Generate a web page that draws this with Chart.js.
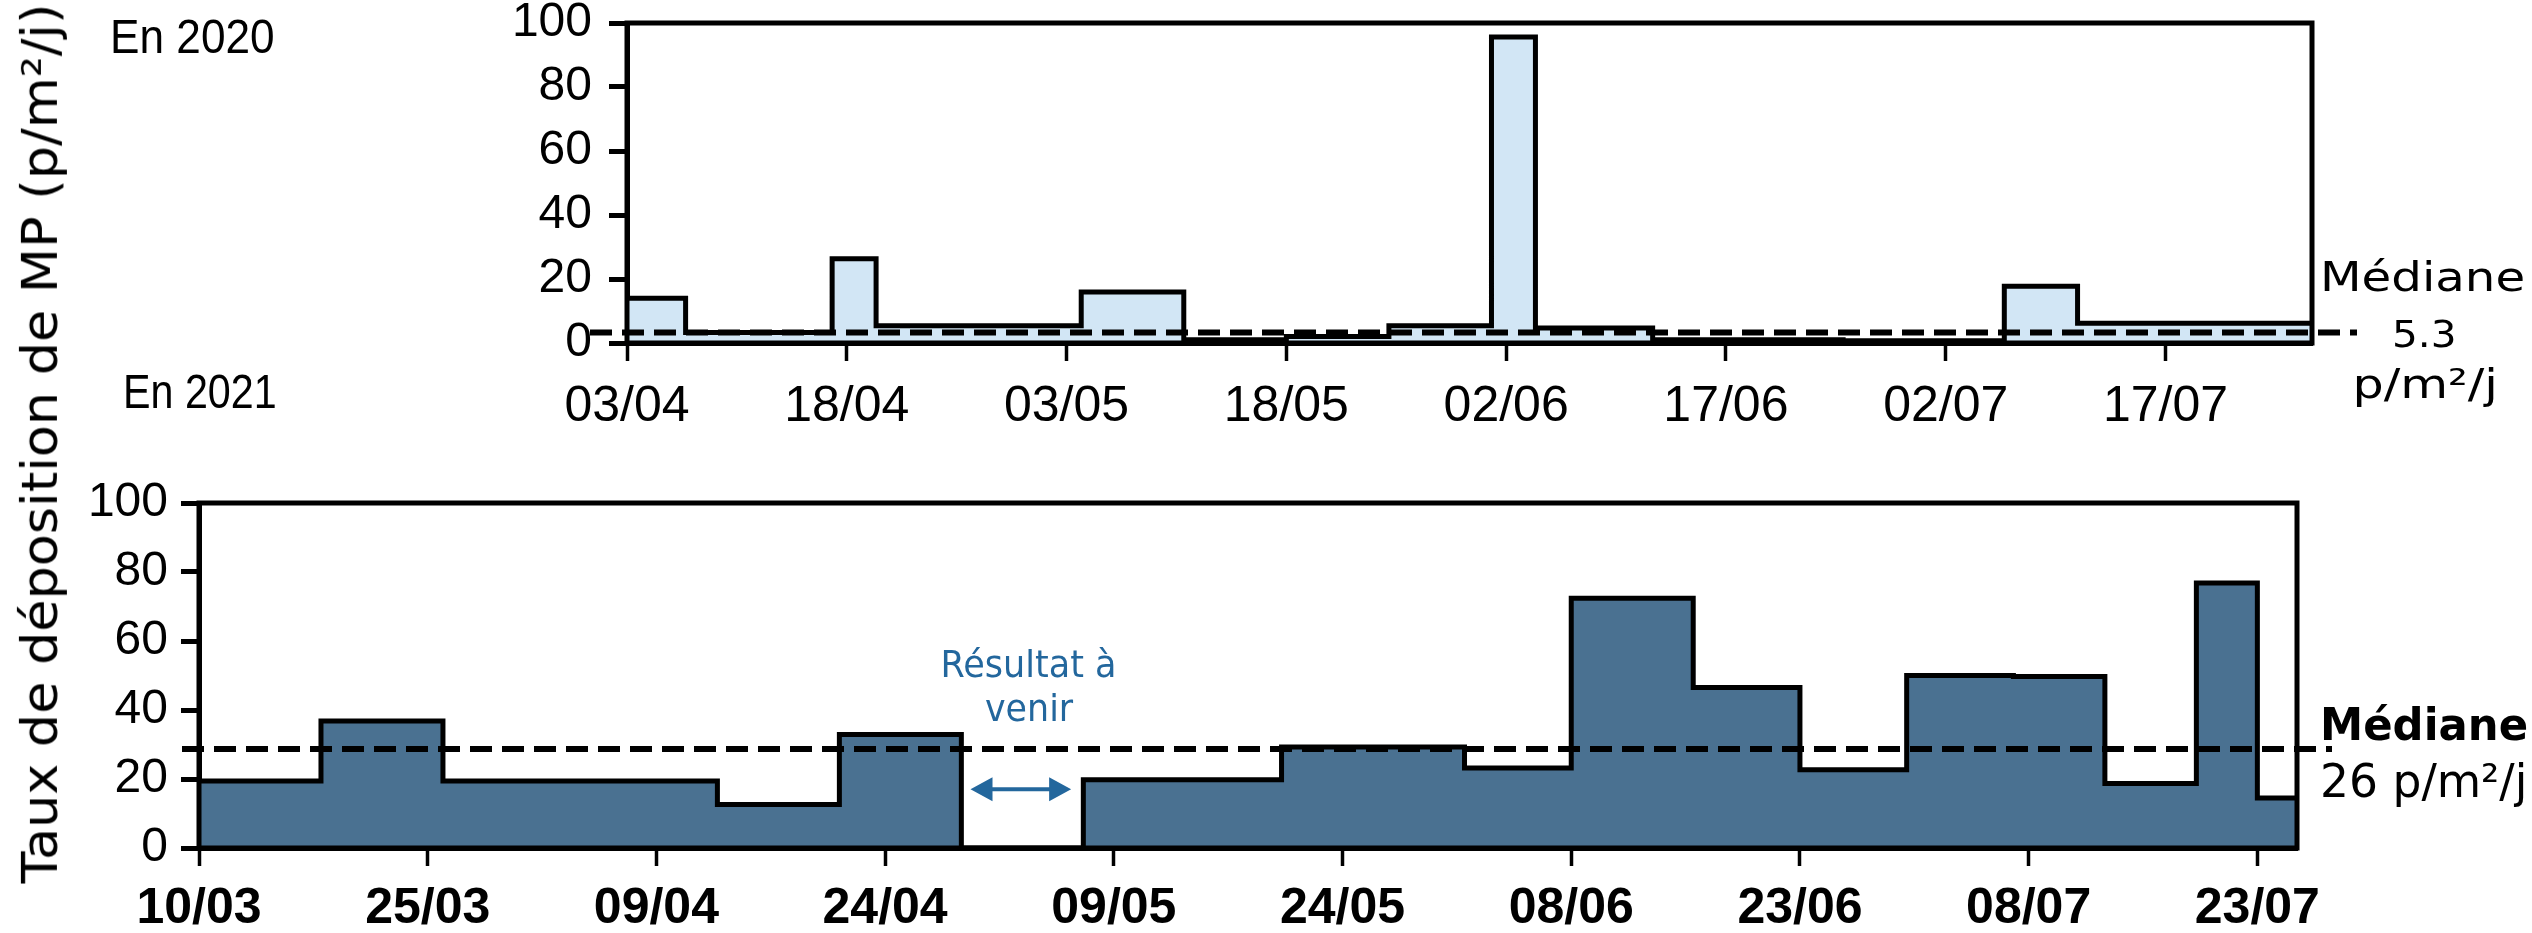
<!DOCTYPE html>
<html>
<head>
<meta charset="utf-8">
<script src="https://cdn.jsdelivr.net/npm/chart.js"></script>
<style>
    html, body { margin: 0; padding: 0; background: #fff; }
    #wrap { position: relative; width: 2532px; height: 933px; overflow: hidden; }
    canvas { position: absolute; left: 0; }
    #c2020 { top: 0; }
    #c2021 { top: 466px; }
    .lbl { position: absolute; white-space: nowrap; line-height: 1; font-family: 'DejaVu Sans', sans-serif; color: #000; }
</style>
</head>
<body>
<div id="wrap">
    <canvas id="c2020" width="2532" height="466"></canvas>
    <canvas id="c2021" width="2532" height="467"></canvas>
</div>
<script>
// 2020 - jours comptés depuis le 03/04
const ticks2020 = ['03/04', '18/04', '03/05', '18/05', '02/06', '17/06', '02/07', '17/07'];
const tickDays2020 = [0, 15, 30, 45, 60, 75, 90, 105];
const edges2020 = [0, 4, 14, 17, 31, 38, 45, 52, 59, 62, 70, 83, 94, 99, 115];
const values2020 = [14, 3.3, 26.3, 5.4, 15.9, 1.0, 2.0, 5.4, 95.6, 4.7, 1.0, 0.7, 17.7, 6.2];
const median2020 = 3.3; // hauteur de la ligne pointillée telle que dessinée

// 2021 - jours comptés depuis le 10/03
const ticks2021 = ['10/03', '25/03', '09/04', '24/04', '09/05', '24/05', '08/06', '23/06', '08/07', '23/07'];
const tickDays2021 = [0, 15, 30, 45, 60, 75, 90, 105, 120, 135];
const edges2021 = [0, 8, 16, 34, 42, 50, 58, 71, 83, 90, 98, 105, 112, 119, 125, 131, 135, 137.6];
const values2021 = [19.4, 36.8, 19.4, 12.6, 32.9, null, 19.8, 29.3, 23.2, 72.4, 46.5, 22.7, 50.0, 49.7, 18.7, 76.8, 14.5];
const median2021 = 28.7;
const pendingPeriod = [50.6, 57.2]; // résultat à venir

const yTicks = [0, 20, 40, 60, 80, 100];

// points en escalier : chaque valeur tient jusqu'au bord suivant
function stepPoints(edges, values) {
    const pts = values.map((v, i) => ({ x: edges[i], y: v === null ? 0 : v }));
    pts.push({ x: edges[edges.length - 1], y: values[values.length - 1] });
    return pts;
}

// pas de marge automatique autour des axes
function noAxisPadding(s) {
    s.paddingTop = 0;
    s.paddingBottom = 0;
    s.paddingLeft = 0;
    s.paddingRight = 0;
}

const panelDecor = {
    id: 'panelDecor',
    afterDatasetsDraw(chart, args, opts) {
        const { ctx, chartArea: a, scales } = chart;
        ctx.save();
        ctx.strokeStyle = '#000';
        ctx.lineWidth = opts.frameWidth;
        ctx.strokeRect(a.left, a.top, a.right - a.left, a.bottom - a.top);

        // ligne médiane
        const y = scales.y.getPixelForValue(opts.median);
        ctx.setLineDash([22, 10]);
        ctx.lineWidth = 6;
        ctx.beginPath();
        ctx.moveTo(a.left - opts.extLeft, y);
        ctx.lineTo(a.right + opts.extRight, y);
        ctx.stroke();
        ctx.setLineDash([]);

        // flèche double pour la période sans résultat
        if (opts.arrow) {
            const x1 = scales.x.getPixelForValue(opts.arrow.from);
            const x2 = scales.x.getPixelForValue(opts.arrow.to);
            const ya = scales.y.getPixelForValue(opts.arrow.y);
            const hl = 22, hw = 12;
            ctx.fillStyle = ctx.strokeStyle = opts.arrow.color;
            ctx.lineWidth = 4;
            ctx.beginPath();
            ctx.moveTo(x1 + hl - 2, ya);
            ctx.lineTo(x2 - hl + 2, ya);
            ctx.stroke();
            ctx.beginPath();
            ctx.moveTo(x1, ya); ctx.lineTo(x1 + hl, ya - hw); ctx.lineTo(x1 + hl, ya + hw); ctx.closePath();
            ctx.moveTo(x2, ya); ctx.lineTo(x2 - hl, ya - hw); ctx.lineTo(x2 - hl, ya + hw); ctx.closePath();
            ctx.fill();
        }
        ctx.restore();
    }
};

function makePanel(canvasId, p) {
    const chart = new Chart(document.getElementById(canvasId), {
        type: 'line',
        data: {
            datasets: [{
                data: stepPoints(p.edges, p.values),
                stepped: true,
                fill: 'origin',
                backgroundColor: p.fill,
                borderColor: '#000',
                borderWidth: 5,
                borderJoinStyle: 'miter',
                pointRadius: 0
            }]
        },
        options: {
            responsive: false,
            animation: false,
            events: [],
            layout: { autoPadding: false, padding: { top: p.area.top, right: 0, left: 0, bottom: 0 } },
            plugins: {
                legend: { display: false },
                tooltip: { enabled: false },
                panelDecor: {
                    frameWidth: 5,
                    median: p.median,
                    extLeft: p.extLeft,
                    extRight: p.extRight,
                    arrow: p.arrow
                }
            },
            scales: {
                x: {
                    type: 'linear',
                    min: 0,
                    max: p.edges[p.edges.length - 1],
                    afterBuildTicks: s => { s.ticks = p.tickDays.map(v => ({ value: v })); },
                    afterFit: noAxisPadding,
                    ticks: {
                        autoSkip: false,
                        maxRotation: 0,
                        padding: p.xPad,
                        color: '#000',
                        font: { family: "'Liberation Sans', Arial, sans-serif", size: 50, weight: p.xWeight },
                        callback: v => p.tickLabels[p.tickDays.indexOf(v)]
                    },
                    grid: { drawOnChartArea: false, tickLength: 18, tickWidth: 3.5, tickColor: '#000' },
                    border: { display: true, color: '#000', width: 5 }
                },
                y: {
                    min: 0,
                    max: 100,
                    afterBuildTicks: s => { s.ticks = yTicks.map(v => ({ value: v })); },
                    afterFit: noAxisPadding,
                    ticks: {
                        autoSkip: false,
                        padding: p.yPad,
                        color: '#000',
                        font: { family: "'Liberation Sans', Arial, sans-serif", size: 48 }
                    },
                    grid: { drawOnChartArea: false, tickLength: 18, tickWidth: 5, tickColor: '#000' },
                    border: { display: true, color: '#000', width: 5 }
                }
            }
        },
        plugins: [panelDecor]
    });

    // recale la zone de tracé sur les bords voulus
    const pad = { top: p.area.top, left: 0, right: 0, bottom: 0 };
    for (let i = 0; i < 4; i++) {
        const a = chart.chartArea;
        pad.top += p.area.top - a.top;
        pad.left += p.area.left - a.left;
        pad.right += a.right - p.area.right;
        pad.bottom += a.bottom - p.area.bottom;
        chart.options.layout.padding = Object.assign({}, pad);
        chart.update();
    }
    return chart;
}

const chart2020 = makePanel('c2020', {
    edges: edges2020, values: values2020, median: median2020,
    tickDays: tickDays2020, tickLabels: ticks2020,
    fill: '#D2E6F5',
    area: { left: 627, right: 2312, top: 23, bottom: 343 },
    xPad: 16, yPad: 17, xWeight: 'normal',
    extLeft: 37, extRight: 45
});

const chart2021 = makePanel('c2021', {
    edges: edges2021, values: values2021, median: median2021,
    tickDays: tickDays2021, tickLabels: ticks2021,
    fill: '#4A7191',
    area: { left: 199, right: 2297, top: 37, bottom: 382 },
    xPad: 13, yPad: 13, xWeight: 'bold',
    extLeft: 17, extRight: 35,
    arrow: { from: pendingPeriod[0], to: pendingPeriod[1], y: 17, color: '#23679D' }
});

// textes en HTML, étirés à la largeur voulue
const wrap = document.getElementById('wrap');
function addLabel(text, o) {
    const el = document.createElement('div');
    el.className = 'lbl';
    el.textContent = text;
    el.style.fontSize = o.size + 'px';
    if (o.family) el.style.fontFamily = o.family;
    if (o.weight) el.style.fontWeight = o.weight;
    if (o.color) el.style.color = o.color;
    const probe = document.createElement('span');
    probe.style.cssText = 'display:inline-block;width:0;height:0;vertical-align:baseline;';
    el.appendChild(probe);
    wrap.appendChild(el);
    const w = el.offsetWidth, h = el.offsetHeight, base = probe.offsetTop;
    const k = o.width ? o.width / w : 1;
    if (o.rotate) {
        const cx = o.baselineX - (base - h / 2);
        el.style.left = (cx - w / 2) + 'px';
        el.style.top = (o.centerY - h / 2) + 'px';
        el.style.transformOrigin = 'center center';
        el.style.transform = 'rotate(-90deg) scaleX(' + k + ')';
        return;
    }
    el.style.top = (o.baseline - base) + 'px';
    if (o.align === 'center') {
        el.style.left = (o.x - w / 2) + 'px';
        el.style.transformOrigin = 'center top';
    } else {
        el.style.left = o.x + 'px';
        el.style.transformOrigin = 'left top';
    }
    el.style.transform = 'scaleX(' + k + ')';
}

const narrow = "'Liberation Sans', Arial, sans-serif";
addLabel('Taux de déposition de MP (p/m²/j)', { rotate: true, baselineX: 57, centerY: 443, size: 49, width: 880 });
addLabel('En 2020', { x: 110, baseline: 53, size: 49, width: 165, family: narrow });
addLabel('En 2021', { x: 123, baseline: 408, size: 49, width: 154, family: narrow });
addLabel('Médiane', { x: 2320, baseline: 291, size: 40, width: 205 });
addLabel('5.3', { x: 2424, align: 'center', baseline: 347, size: 38, width: 64 });
addLabel('p/m²/j', { x: 2425, align: 'center', baseline: 398, size: 40, width: 145 });
addLabel('Médiane', { x: 2320, baseline: 740, size: 44, width: 208, weight: 'bold' });
addLabel('26 p/m²/j', { x: 2320, baseline: 797, size: 46, width: 207 });
addLabel('Résultat à', { x: 1028, align: 'center', baseline: 677, size: 38, width: 176, color: '#23679D' });
addLabel('venir', { x: 1029, align: 'center', baseline: 721, size: 38, width: 88, color: '#23679D' });
</script>
</body>
</html>
